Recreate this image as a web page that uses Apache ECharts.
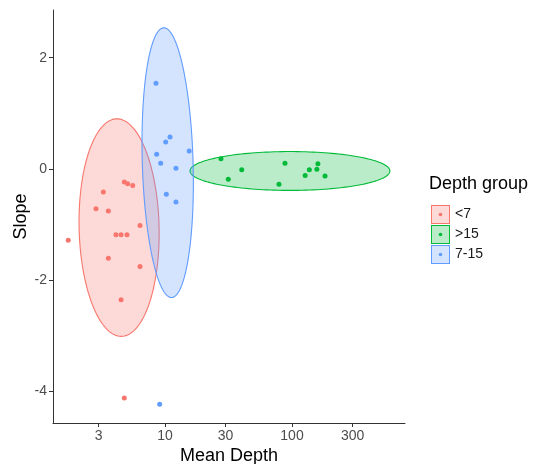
<!DOCTYPE html>
<html><head><meta charset="utf-8">
<script src="https://cdn.jsdelivr.net/npm/echarts@6/dist/echarts.min.js"></script>
<style>html,body{margin:0;padding:0;background:#fff}#c{width:544px;height:464px}</style>
</head><body><div id="c"></div>
<script>
const groups = ['<7', '>15', '7-15'];
const colors = ['#F8766D', '#00BA38', '#619CFF'];
const depthLt7 = [1.73, 2.86, 3.27, 3.58, 3.58, 4.11, 4.51, 5.02, 4.51, 4.78, 5.08, 5.57, 6.36, 6.36, 4.78];
const slopeLt7 = [-1.29, -0.72, -0.42, -0.76, -1.61, -1.19, -1.19, -1.19, -2.36, -0.24, -0.27, -0.30, -1.02, -1.76, -4.13];
const depthGt15 = [27.6, 40.2, 31.5, 88.1, 79.0, 160, 137, 157, 127, 182];
const slopeGt15 = [0.18, -0.02, -0.19, 0.10, -0.28, 0.09, -0.02, -0.01, -0.12, -0.13];
const depth7to15 = [8.49, 10.95, 10.13, 8.60, 15.5, 9.25, 12.2, 10.24, 12.2, 9.08];
const slope7to15 = [1.54, 0.57, 0.48, 0.26, 0.32, 0.10, 0.01, -0.46, -0.60, -4.24];
const xTicks = [3, 10, 30, 100, 300];
const yTicks = [-4, -2, 0, 2];
// 95% ellipses: centre, half-width (decades of depth), half-height (slope), tilt
const ellipseCenterDepth = [4.35, 96.4, 10.5];
const ellipseCenterSlope = [-1.06, -0.04, 0.11];
const ellipseHalfWidth = [0.315, 0.787, 0.20];
const ellipseHalfHeight = [1.96, 0.35, 2.43];
const ellipseTilt = [-0.017, 0, -0.030];

const depths = [depthLt7, depthGt15, depth7to15];
const slopes = [slopeLt7, slopeGt15, slope7to15];

function rgba(hex, a) {
  const n = parseInt(hex.slice(1), 16);
  return 'rgba(' + (n >> 16) + ',' + ((n >> 8) & 255) + ',' + (n & 255) + ',' + a + ')';
}
function legendIcon(c) {
  const svg = "<svg xmlns='http://www.w3.org/2000/svg' width='19' height='19'>" +
    "<rect x='0.5' y='0.5' width='18' height='18' fill='" + rgba(c, 0.27) + "' stroke='" + c + "' stroke-width='1'/>" +
    "<circle cx='9.5' cy='9.5' r='1.8' fill='" + c + "'/></svg>";
  return 'image://data:image/svg+xml;charset=utf-8,' + encodeURIComponent(svg);
}

const series = [];
groups.forEach((g, i) => {
  series.push({
    type: 'custom', name: g, coordinateSystem: 'cartesian2d', silent: true, z: 1,
    data: [[Math.log10(ellipseCenterDepth[i]), ellipseCenterSlope[i]]],
    renderItem: (params, api) => {
      const cx = api.value(0), cy = api.value(1);
      const pts = [];
      for (let k = 0; k < 160; k++) {
        const t = 2 * Math.PI * k / 160;
        pts.push(api.coord([
          cx + ellipseHalfWidth[i] * Math.cos(t) + ellipseTilt[i] * Math.sin(t),
          cy + ellipseHalfHeight[i] * Math.sin(t)
        ]));
      }
      return { type: 'polygon', shape: { points: pts },
        style: { fill: rgba(colors[i], 0.27), stroke: colors[i], lineWidth: 1.1 } };
    }
  });
});
groups.forEach((g, i) => {
  series.push({
    type: 'scatter', name: g, z: 3, symbolSize: 5,
    itemStyle: { color: colors[i], opacity: 1 },
    data: depths[i].map((d, k) => [Math.log10(d), slopes[i][k]])
  });
});

const chart = echarts.init(document.getElementById('c'));
chart.setOption({
  backgroundColor: '#fff',
  animation: false,
  title: { text: 'Depth group', left: 424, top: 170,
    textStyle: { fontFamily: 'Liberation Sans, Arial', fontSize: 18, fontWeight: 'normal', color: '#000' } },
  legend: {
    orient: 'vertical', left: 426, top: 200, itemWidth: 19, itemHeight: 19, itemGap: 1,
    data: groups.map((g, i) => ({ name: g, icon: legendIcon(colors[i]) })),
    textStyle: { fontFamily: 'Liberation Sans, Arial', fontSize: 14, color: '#1a1a1a' }
  },
  grid: { left: 53, right: 139, top: 10, bottom: 41, containLabel: false, outerBoundsMode: 'none' },
  xAxis: {
    type: 'value', min: 0.118, max: 2.89,
    name: 'Mean Depth', nameLocation: 'middle', nameGap: 24, nameMoveOverlap: false,
    nameTextStyle: { fontFamily: 'Liberation Sans, Arial', fontSize: 18, color: '#000' },
    axisLine: { onZero: false, lineStyle: { color: '#333', width: 1 } },
    axisTick: { customValues: xTicks.map(Math.log10), length: 4, lineStyle: { color: '#333' } },
    axisLabel: { customValues: xTicks.map(Math.log10), margin: 6,
      formatter: v => String(Math.round(Math.pow(10, v))),
      fontFamily: 'Liberation Sans, Arial', fontSize: 14, color: '#4d4d4d' },
    splitLine: { show: false }
  },
  yAxis: {
    type: 'value', min: -4.58, max: 2.86,
    name: 'Slope', nameLocation: 'middle', nameGap: 23, nameMoveOverlap: false,
    nameTextStyle: { fontFamily: 'Liberation Sans, Arial', fontSize: 18, color: '#000' },
    axisLine: { show: true, onZero: false, lineStyle: { color: '#333', width: 1 } },
    axisTick: { show: true, customValues: yTicks, length: 4, lineStyle: { color: '#333' } },
    axisLabel: { customValues: yTicks, margin: 6,
      fontFamily: 'Liberation Sans, Arial', fontSize: 14, color: '#4d4d4d' },
    splitLine: { show: false }
  },
  series: series
});
</script>
</body></html>
